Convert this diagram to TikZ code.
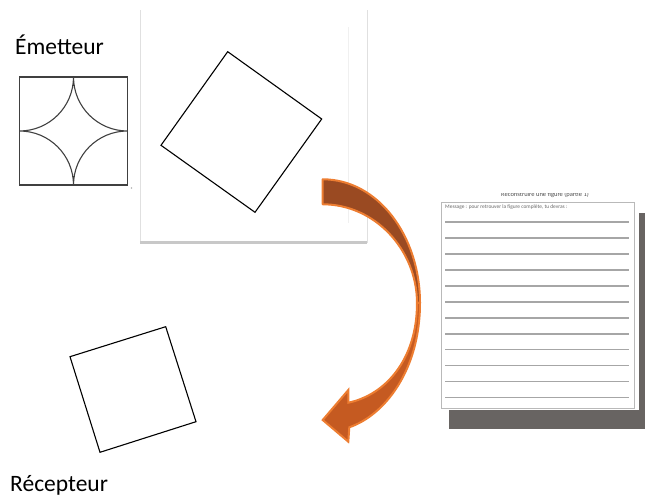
\documentclass[tikz,border=0pt]{standalone}
\usepackage{fontspec}
\setmainfont{Carlito}
\usepackage{tikz}
\usetikzlibrary{positioning, calc}
\definecolor{arrowline}{RGB}{237, 125, 49}
\definecolor{arrowfront}{RGB}{197, 90, 33}
\definecolor{arrowback}{RGB}{154, 74, 34}
\definecolor{sheetshadow}{RGB}{104, 100, 98}
\definecolor{pageedge}{RGB}{200, 200, 200}

\begin{document}
\begin{tikzpicture}[x=1pt, y=-1pt,
  label/.style={font=\fontsize{23.5}{26}\selectfont, inner sep=0pt, anchor=base west},
  fig/.style={draw=black, line width=1.1pt, line join=miter},
  rule/.style={draw=gray!70, line width=1.6pt},
]
  \useasboundingbox (0,0) rectangle (646,502);

  % Sender side
  \node[label] (emetteur) at (15,55) {Émetteur};

  % model figure: square with four quarter arcs
  \draw[draw=black!75, line width=1.2pt] (19.5,77) rectangle (127.5,185);
  \draw[draw=black!75, line width=1.1pt]
    (73.5,77) .. controls (73.5,106.8) and (49.3,131) .. (19.5,131)
    (73.5,77) .. controls (73.5,106.8) and (97.7,131) .. (127.5,131)
    (73.5,185) .. controls (73.5,155.2) and (97.7,131) .. (127.5,131)
    (73.5,185) .. controls (73.5,155.2) and (49.3,131) .. (19.5,131);
  \fill[gray!60] (131.5,188) circle (0.8);

  % sheet with the tilted square
  \draw[draw=black!12, line width=0.8pt] (140,10) -- (140,243);
  \draw[draw=black!12, line width=0.8pt] (367,10) -- (367,243);
  \draw[draw=black!6, line width=0.6pt] (348,27) -- (348,223);
  \draw[draw=pageedge, line width=3pt] (140,243) -- (367,243);
  \draw[fig] (227.7,51.7) -- (321.7,119) -- (255,212.3) -- (161,145.3) -- cycle;

  % Message sheet
  \fill[sheetshadow] (449,213) rectangle (645,429);
  \fill[white] (441,202) rectangle (639,410);
  \draw[draw=gray!55, line width=0.9pt] (441,202) rectangle (634,408);
  \begin{scope}
    \clip (470,194) rectangle (620,199);
    \node[font=\fontsize{6.5}{7}\selectfont, text=black!70, inner sep=0pt, anchor=base] (titre) at (545,197) {Reconstruire une figure (partie 1)};
  \end{scope}
  \node[font=\fontsize{5.4}{6}\selectfont, text=black!60, inner sep=0pt, anchor=base west] (consigne) at (445,209) {Message : pour retrouver la figure complète, tu devras :};
  \foreach \ly in {222,238,254,270,286,302,318,334,349.5,365.5,381.5,397.5}
    \draw[rule] (445,\ly) -- (629,\ly);

  % Curved arrow, back half then front half
  \filldraw[fill=arrowback, draw=arrowline, line width=2pt, line join=round]
    (322.7,179.3) .. controls (378,179.3) and (420,236) .. (420,303)
    -- (417,303) .. controls (417,250) and (375,204.3) .. (322.7,204.3) -- cycle;
  \filldraw[fill=arrowfront, draw=arrowline, line width=2pt, line join=miter]
    (420,303) .. controls (420,370) and (385,415) .. (349.3,427.3)
    -- (348.3,441.7) -- (322.7,420) -- (348.3,390) -- (348.3,402.7)
    .. controls (385,395) and (417,360) .. (417,303) -- cycle;

  % Receiver side
  \draw[fig] (70,356.7) -- (165.7,326.7) -- (196,421.7) -- (100,452.3) -- cycle;
  \node[label] (recepteur) at (10,492) {Récepteur};
\end{tikzpicture}
\end{document}
